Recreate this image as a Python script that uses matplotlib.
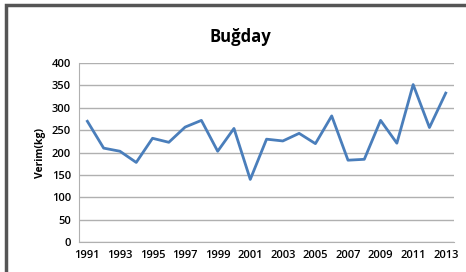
import matplotlib
matplotlib.use('Agg')
import matplotlib.pyplot as plt
from matplotlib.patches import Rectangle

years = list(range(1991, 2014))
verim = [270, 210, 203, 178, 232, 223, 257, 272, 203, 254, 140, 230,
         226, 243, 220, 282, 183, 185, 272, 221, 352, 256, 333]
year_ticks = list(range(1991, 2014, 2))
y_ticks = [0, 50, 100, 150, 200, 250, 300, 350, 400]

fig = plt.figure(figsize=(4.66, 2.72), dpi=100)
fig.patch.set_facecolor('white')
# chart frame
fig.patches.append(Rectangle((0.013, -0.02), 1.0, 1.0, transform=fig.transFigure,
                             fill=False, edgecolor='#555555', linewidth=2.5))

ax = fig.add_axes([0.170, 0.110, 0.804, 0.658])
ax.plot(years, verim, color='#4a7ebb', linewidth=2)
ax.set_xlim(1990.5, 2013.5)
ax.set_ylim(0, 400)
ax.set_xticks(year_ticks)
ax.set_yticks(y_ticks)
ax.grid(axis='y', color='#b0b0b0', linewidth=1)
ax.set_axisbelow(True)
for s in ['top', 'right']:
    ax.spines[s].set_visible(False)
ax.spines['left'].set_color('#b0b0b0')
ax.spines['bottom'].set_color('#b0b0b0')
ax.tick_params(length=0, labelsize=8, pad=6)
for lbl in ax.get_xticklabels() + ax.get_yticklabels():
    lbl.set_fontweight('semibold')
    lbl.set_family('Open Sans')
ax.set_ylabel('Verim(kg)', fontsize=7.5, fontweight='bold', family='Open Sans', labelpad=4)

fig.text(0.515, 0.865, 'Buğday', ha='center', va='center', fontsize=12,
         fontweight='bold', family='Open Sans')

fig.savefig('out.png', dpi=100)
